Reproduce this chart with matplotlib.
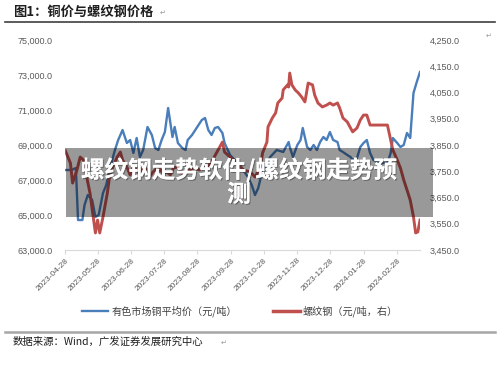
import matplotlib
matplotlib.use("Agg")
import matplotlib.pyplot as plt
import matplotlib.patheffects as pe
from matplotlib.patches import Rectangle
from matplotlib.lines import Line2D
import pandas as pd

plt.rcParams['font.family'] = ['Liberation Sans', 'Noto Sans CJK SC', 'DejaVu Sans']

# ---------------- data ----------------
copper_dates = ["2023-04-28", "2023-05-04", "2023-05-08", "2023-05-10", "2023-05-14", "2023-05-16",
                "2023-05-19", "2023-05-23", "2023-05-26", "2023-05-29", "2023-06-02", "2023-06-05",
                "2023-06-08", "2023-06-13", "2023-06-16", "2023-06-20", "2023-06-24", "2023-06-27",
                "2023-06-30", "2023-07-03", "2023-07-06", "2023-07-09", "2023-07-13", "2023-07-17",
                "2023-07-20", "2023-07-23", "2023-07-26", "2023-07-29", "2023-08-01", "2023-08-05",
                "2023-08-07", "2023-08-10", "2023-08-14", "2023-08-17", "2023-08-19", "2023-08-23",
                "2023-08-26", "2023-08-29", "2023-09-01", "2023-09-04", "2023-09-07", "2023-09-10",
                "2023-09-13", "2023-09-16", "2023-09-20", "2023-09-22", "2023-09-27", "2023-10-03",
                "2023-10-08", "2023-10-14", "2023-10-17", "2023-10-20", "2023-10-23", "2023-10-27",
                "2023-10-31", "2023-11-03", "2023-11-09", "2023-11-15", "2023-11-20", "2023-11-21",
                "2023-11-24", "2023-11-28", "2023-12-01", "2023-12-03", "2023-12-07", "2023-12-10",
                "2023-12-13", "2023-12-16", "2023-12-19", "2023-12-22", "2023-12-25", "2023-12-28",
                "2023-12-31", "2024-01-04", "2024-01-06", "2024-01-09", "2024-01-13", "2024-01-16",
                "2024-01-18", "2024-01-22", "2024-01-25", "2024-01-28", "2024-01-31", "2024-02-03",
                "2024-02-06", "2024-02-12", "2024-02-19", "2024-02-22", "2024-02-24", "2024-02-28",
                "2024-03-02", "2024-03-05", "2024-03-08", "2024-03-11", "2024-03-14", "2024-03-17",
                "2024-03-20"]
copper_price = [67571, 67571, 67686, 64714, 64714, 65571,
                66143, 65857, 64886, 65000, 66257, 66714,
                67571, 68714, 69286, 69857, 69114, 69286,
                68543, 69400, 68314, 68714, 70029, 69571,
                68829, 68714, 69286, 69743, 71114, 69457,
                70029, 69114, 68829, 68714, 69286, 69571,
                69857, 70143, 70429, 70543, 69857, 69571,
                69971, 70029, 69686, 69114, 68429, 68029,
                67686, 67114, 66714, 66143, 66543, 67571,
                67857, 68314, 68714, 68600, 69171, 68886,
                68314, 69000, 69286, 69971, 68886, 68714,
                69000, 68714, 69171, 69457, 69286, 69743,
                69286, 69171, 68714, 68600, 68429, 68314,
                68143, 68257, 68886, 69114, 69286, 68543,
                68143, 67971, 67971, 68543, 69400, 69114,
                68886, 69000, 69686, 69400, 71971, 72600,
                73171]

rebar_dates = ["2023-04-28", "2023-05-03", "2023-05-05", "2023-05-09", "2023-05-12", "2023-05-15",
               "2023-05-18", "2023-05-21", "2023-05-24", "2023-05-26", "2023-05-28", "2023-05-30",
               "2023-06-02", "2023-06-06", "2023-06-08", "2023-06-11", "2023-06-15", "2023-06-18",
               "2023-06-20", "2023-06-24", "2023-06-27", "2023-06-30", "2023-07-03", "2023-07-06",
               "2023-07-09", "2023-07-13", "2023-07-15", "2023-07-18", "2023-07-22", "2023-07-25",
               "2023-07-27", "2023-07-31", "2023-08-03", "2023-08-06", "2023-08-09", "2023-08-12",
               "2023-08-15", "2023-08-18", "2023-08-21", "2023-08-24", "2023-08-30", "2023-09-06",
               "2023-09-11", "2023-09-16", "2023-09-20", "2023-09-22", "2023-09-27", "2023-10-04",
               "2023-10-09", "2023-10-16", "2023-10-20", "2023-10-25", "2023-10-27", "2023-10-31",
               "2023-11-01", "2023-11-05", "2023-11-08", "2023-11-10", "2023-11-14", "2023-11-15",
               "2023-11-19", "2023-11-20", "2023-11-21", "2023-11-23", "2023-11-26", "2023-11-29",
               "2023-12-02", "2023-12-05", "2023-12-08", "2023-12-12", "2023-12-14", "2023-12-17",
               "2023-12-21", "2023-12-25", "2023-12-28", "2023-12-31", "2024-01-04", "2024-01-06",
               "2024-01-09", "2024-01-13", "2024-01-16", "2024-01-18", "2024-01-22", "2024-01-25",
               "2024-01-28", "2024-01-31", "2024-02-03", "2024-02-08", "2024-02-19", "2024-02-22",
               "2024-02-24", "2024-02-28", "2024-03-02", "2024-03-05", "2024-03-08", "2024-03-11",
               "2024-03-14", "2024-03-16", "2024-03-18", "2024-03-20"]
rebar_price = [3831, 3781, 3705, 3755, 3804, 3793,
               3728, 3667, 3576, 3515, 3564, 3515,
               3576, 3667, 3728, 3766, 3804, 3823,
               3793, 3766, 3736, 3766, 3755, 3736,
               3762, 3755, 3728, 3747, 3762, 3755,
               3743, 3747, 3736, 3762, 3766, 3755,
               3736, 3743, 3755, 3762, 3755, 3766,
               3793, 3831, 3861, 3823, 3804, 3781,
               3755, 3747, 3728, 3766, 3820, 3861,
               3919, 3953, 3972, 4010, 4029, 4060,
               4079, 4071, 4124, 4079, 4060, 4048,
               4033, 4014, 4086, 4079, 4040, 4010,
               3995, 4002, 4010, 4002, 4010, 3991,
               3953, 3938, 3915, 3900, 3915, 3945,
               3964, 3964, 3926, 3926, 3926, 3869,
               3831, 3793, 3762, 3717, 3679, 3640,
               3576, 3515, 3519, 3564]

left_ticks = [63000, 65000, 67000, 69000, 71000, 73000, 75000]
right_ticks = [3450, 3550, 3650, 3750, 3850, 3950, 4050, 4150, 4250]
x_ticks = ["2023-04-28", "2023-05-28", "2023-06-28", "2023-07-28", "2023-08-28", "2023-09-28",
           "2023-10-28", "2023-11-28", "2023-12-28", "2024-01-28", "2024-02-28"]

title_text = "图1：铜价与螺纹钢价格"
source_text = "数据来源：Wind，广发证券发展研究中心"
label_copper = "有色市场铜平均价（元/吨）"
label_rebar = "螺纹钢（元/吨，右）"
overlay_text = "螺纹钢走势软件/螺纹钢走势预\n测"

# ---------------- figure ----------------
W, H = 500, 365
fig = plt.figure(figsize=(W / 100, H / 100), dpi=100)
fig.patch.set_facecolor("white")

def fx(px):
    return px / W

def fy(py):
    return 1 - py / H

ax = fig.add_axes([fx(65), fy(250), fx(420) - fx(65), fy(40) - fy(250)])
ax2 = ax.twinx()

BLUE = "#4A7EBB"
RED = "#C0504D"
GRAY = "#595959"

cd = pd.to_datetime(copper_dates)
rd = pd.to_datetime(rebar_dates)
ax.plot(cd, copper_price, color=BLUE, lw=1.7, solid_joinstyle="round", zorder=3)
ax2.plot(rd, rebar_price, color=RED, lw=2.1, solid_joinstyle="round", zorder=3)

ax.set_ylim(63000, 75000)
ax2.set_ylim(3450, 4250)
ax.set_xlim(pd.Timestamp("2023-04-28"), pd.Timestamp("2024-03-20"))

ax.set_yticks(left_ticks)
ax.set_yticklabels([f"{v:,.1f}" for v in left_ticks])
ax2.set_yticks(right_ticks)
ax2.set_yticklabels([f"{v:,.1f}" for v in right_ticks])
xt = pd.to_datetime(x_ticks)
ax.set_xticks(xt)
ax.set_xticklabels(x_ticks, rotation=45, ha="right", rotation_mode="anchor")

for a in (ax, ax2):
    for s in ("top", "left", "right", "bottom"):
        a.spines[s].set_visible(False)
    a.set_facecolor("none")
ax.spines["bottom"].set_visible(True)
ax.spines["bottom"].set_color("#D9D9D9")
ax.spines["bottom"].set_linewidth(0.8)

ax.tick_params(axis="y", length=0, pad=9, labelsize=6.5, labelcolor=GRAY)
ax2.tick_params(axis="y", length=0, pad=7, labelsize=6.5, labelcolor=GRAY)
ax.tick_params(axis="x", length=3, width=0.8, color="#D9D9D9", pad=2, labelsize=6, labelcolor=GRAY)

# overlay box
box = Rectangle((fx(66), fy(217)), fx(433) - fx(66), fy(148) - fy(217), transform=fig.transFigure,
                facecolor="black", alpha=0.4, edgecolor="none", zorder=10)
fig.patches.append(box)
fig.text(fx(239), fy(182), overlay_text, ha="center", va="center", color="white",
         fontsize=17, fontweight="bold", family=["Noto Sans CJK SC", "DejaVu Sans"],
         linespacing=1.0, zorder=11,
         path_effects=[pe.withSimplePatchShadow(offset=(0.8, -0.8), shadow_rgbFace="#333333", alpha=0.5),
                       pe.Normal()])

# title & rules
fig.text(fx(13), fy(12), title_text, ha="left", va="center", fontsize=9.5, fontweight="bold",
         color="#1F1F1F", family=["Noto Sans CJK SC", "DejaVu Sans"])
fig.text(fx(160), fy(13), "↵", ha="left", va="center", fontsize=5, color="#999999",
         family=["DejaVu Sans"])
fig.text(fx(486), fy(36), "↵", ha="left", va="center", fontsize=5, color="#999999",
         family=["DejaVu Sans"])
fig.add_artist(Line2D([fx(5), fx(495)], [fy(22), fy(22)], color="#404040", lw=1.2))
fig.add_artist(Line2D([fx(5), fx(495)], [fy(332), fy(332)], color="#A6A6A6", lw=1.8))
fig.text(fx(13), fy(342), source_text, ha="left", va="center", fontsize=7.5, color="#1F1F1F",
         family=["Noto Sans CJK SC", "DejaVu Sans"])
fig.text(fx(221), fy(343), "↵", ha="left", va="center", fontsize=5, color="#999999",
         family=["DejaVu Sans"])

# legend
handles = [Line2D([], [], color=BLUE, lw=1.7), Line2D([], [], color=RED, lw=2.5)]
leg = fig.legend(handles, [label_copper, label_rebar], loc="center", ncol=2,
                 bbox_to_anchor=(fx(240), fy(311)), frameon=False,
                 prop={"family": ["Noto Sans CJK SC", "DejaVu Sans"], "size": 7.3},
                 handlelength=2.6, handletextpad=0.3, columnspacing=3.6)
for t in leg.get_texts():
    t.set_color("#404040")

fig.savefig("out.png", dpi=100, facecolor="white")
